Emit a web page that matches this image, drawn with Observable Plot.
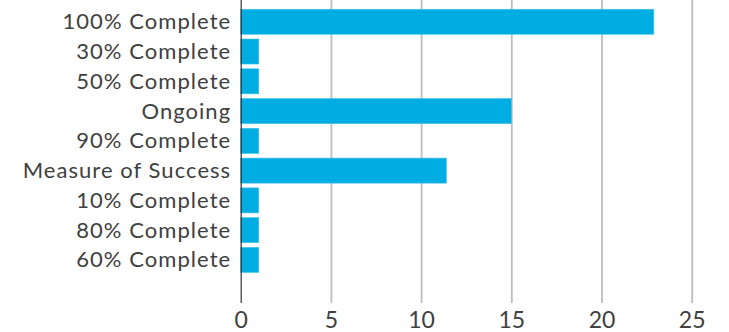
<!DOCTYPE html>
<html>
<head>
<meta charset="utf-8">
<script src="https://cdn.jsdelivr.net/npm/d3@7"></script>
<script src="https://cdn.jsdelivr.net/npm/@observablehq/plot@0.6"></script>
<style>
  html, body { margin: 0; padding: 0; background: #fff; }
  svg { font-family: Lato, "Open Sans", sans-serif; }
  g[aria-label="y-axis tick label"] { letter-spacing: 1.05px; }
</style>
</head>
<body>
<div id="chart"></div>
<script>
const categories = ["100% Complete", "30% Complete", "50% Complete", "Ongoing", "90% Complete", "Measure of Success", "10% Complete", "80% Complete", "60% Complete"];
const values = [22.9, 1, 1, 15, 1, 11.4, 1, 1, 1];
const xTicks = [0, 5, 10, 15, 20, 25];

const data = categories.map((c, i) => ({category: c, value: values[i]}));

const chart = Plot.plot({
  width: 729,
  height: 332,
  marginTop: 0,
  marginBottom: 29,
  marginLeft: 240.7,
  marginRight: 37.3,
  style: {fontFamily: "Lato, 'Open Sans', sans-serif", background: "#fff"},
  x: {domain: [0, 25], range: [240.7, 691.7]},
  y: {domain: categories, range: [4.5, 277.2], padding: 0.16, round: false},
  marks: [
    Plot.ruleX(xTicks.filter(d => d > 0), {stroke: "#bdbdbd", strokeWidth: 1.8}),
    Plot.barX(data, {y: "category", x: "value", fill: "#00ADE2", stroke: "#3cc0ec", strokeWidth: 0.6}),
    Plot.ruleX([0], {stroke: "#333", strokeWidth: 1.2}),
    Plot.axisX({ticks: xTicks, tickSize: 0, tickPadding: 8, fontSize: 23, fill: "#404040", label: null, tickFormat: d => d}),
    Plot.axisY({tickSize: 0, tickPadding: 10, fontSize: 22, fill: "#404040", label: null})
  ]
});
document.getElementById("chart").appendChild(chart);
</script>
</body>
</html>
